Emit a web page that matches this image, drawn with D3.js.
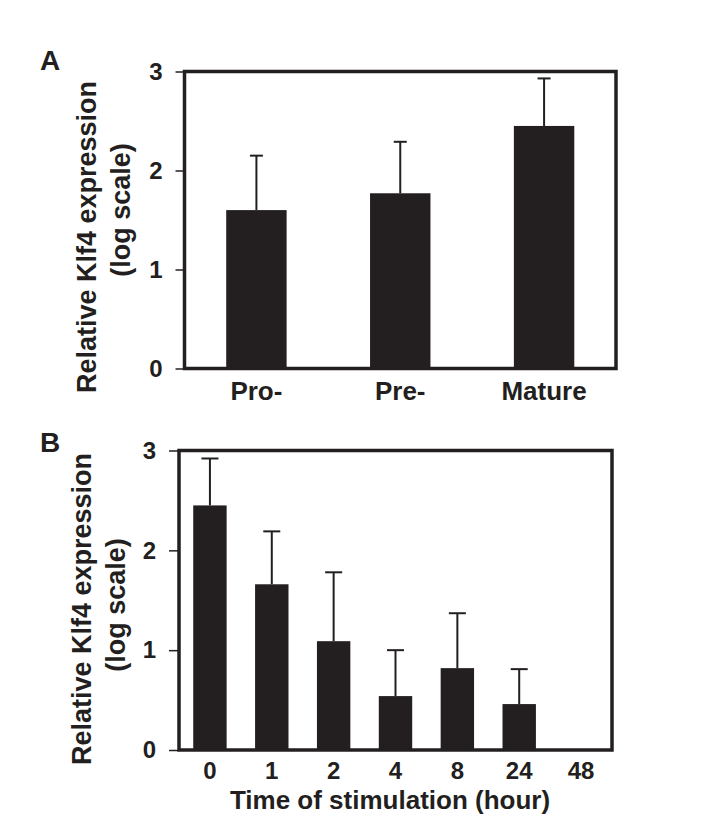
<!DOCTYPE html>
<html>
<head>
<meta charset="utf-8">
<script src="https://cdn.jsdelivr.net/npm/d3@7"></script>
<style>
  body { margin: 0; background: #fff; }
  text { font-family: "Liberation Sans", Arial, sans-serif; font-weight: bold; fill: #231f20; }
</style>
</head>
<body>
<div class="container"></div>
<script>
// panel A: developmental stages
let stages = ["Pro-", "Pre-", "Mature"];
let stageMean = [1.60, 1.77, 2.45];
let stageErr = [0.55, 0.52, 0.48];

// panel B: time of stimulation
let hours = ["0", "1", "2", "4", "8", "24", "48"];
let hourMean = [2.45, 1.66, 1.09, 0.54, 0.82, 0.46, 0];
let hourErr = [0.47, 0.53, 0.69, 0.46, 0.55, 0.35, 0];

let yTicks = [0, 1, 2, 3];

let ink = "#231f20";

let svg = d3.select(".container")
    .append("svg")
    .attr("width", 706)
    .attr("height", 840);

const panel = (opt) => {
    let x = d3.scaleBand()
        .domain(opt.cats)
        .range([opt.left, opt.right])
        .paddingInner(opt.pad)
        .paddingOuter(opt.pad / 2);

    let y = d3.scaleLinear()
        .domain([0, 3])
        .range([opt.bottom, opt.top]);

    let g = svg.append("g");

    // y axis ticks + labels
    let ax = g.append("g")
        .attr("transform", "translate(" + opt.left + ",0)")
        .call(d3.axisLeft(y)
            .tickValues(yTicks)
            .tickFormat(d3.format("d"))
            .tickSize(opt.tick)
            .tickPadding(13));
    ax.select(".domain").remove();
    ax.selectAll("line").attr("stroke", ink).attr("stroke-width", 1.5);
    ax.selectAll("text")
        .style("font-size", "24px")
        .style("font-family", "Liberation Sans, Arial, sans-serif")
        .style("font-weight", "bold")
        .attr("fill", ink);

    // bars
    g.append("g")
        .selectAll("rect")
        .data(opt.cats)
        .enter()
        .append("rect")
        .attr("x", d => x(d))
        .attr("width", x.bandwidth())
        .attr("y", (d, i) => y(opt.mean[i]))
        .attr("height", (d, i) => y(0) - y(opt.mean[i]))
        .attr("fill", ink);

    // error bars (upper only)
    let eb = g.append("g")
        .selectAll("g")
        .data(opt.cats.filter((d, i) => opt.err[i] > 0))
        .enter()
        .append("g");
    eb.append("line")
        .attr("x1", d => x(d) + x.bandwidth() / 2)
        .attr("x2", d => x(d) + x.bandwidth() / 2)
        .attr("y1", d => y(opt.mean[opt.cats.indexOf(d)]))
        .attr("y2", d => { let i = opt.cats.indexOf(d); return y(opt.mean[i] + opt.err[i]); })
        .attr("stroke", ink)
        .attr("stroke-width", 2);
    eb.append("line")
        .attr("x1", d => x(d) + x.bandwidth() / 2 - opt.cap / 2)
        .attr("x2", d => x(d) + x.bandwidth() / 2 + opt.cap / 2)
        .attr("y1", d => { let i = opt.cats.indexOf(d); return y(opt.mean[i] + opt.err[i]); })
        .attr("y2", d => { let i = opt.cats.indexOf(d); return y(opt.mean[i] + opt.err[i]); })
        .attr("stroke", ink)
        .attr("stroke-width", 2);

    // frame
    g.append("rect")
        .attr("x", opt.left)
        .attr("y", opt.top)
        .attr("width", opt.right - opt.left)
        .attr("height", opt.bottom - opt.top)
        .attr("fill", "none")
        .attr("stroke", ink)
        .attr("stroke-width", 3.5);

    // category labels
    g.append("g")
        .selectAll("text")
        .data(opt.cats)
        .enter()
        .append("text")
        .attr("x", d => x(d) + x.bandwidth() / 2)
        .attr("y", opt.labelY)
        .attr("text-anchor", "middle")
        .style("font-size", opt.labelSize + "px")
        .text(d => d);

    // y title, two lines
    g.append("text")
        .attr("transform", "translate(" + opt.title1X + "," + opt.title1Y + ") rotate(-90)")
        .attr("text-anchor", "middle")
        .style("font-size", "27px")
        .text("Relative Klf4 expression");
    g.append("text")
        .attr("transform", "translate(" + opt.title2X + "," + opt.title2Y + ") rotate(-90)")
        .attr("text-anchor", "middle")
        .style("font-size", "27px")
        .text("(log scale)");

    // panel letter
    g.append("text")
        .attr("x", 40)
        .attr("y", opt.letterY)
        .style("font-size", "28px")
        .text(opt.letter);

    return x;
};

panel({
    cats: stages, mean: stageMean, err: stageErr,
    left: 184.5, right: 616, top: 71.5, bottom: 368.5,
    pad: 0.58, cap: 13, tick: 9,
    labelY: 400, labelSize: 26,
    title1X: 96, title1Y: 237, title2X: 130, title2Y: 210,
    letter: "A", letterY: 70
});

panel({
    cats: hours, mean: hourMean, err: hourErr,
    left: 179, right: 612, top: 450.5, bottom: 750,
    pad: 0.46, cap: 17, tick: 10,
    labelY: 779, labelSize: 24,
    title1X: 91, title1Y: 609, title2X: 125, title2Y: 605,
    letter: "B", letterY: 452
});

// x title for panel B
svg.append("text")
    .attr("x", 390)
    .attr("y", 809)
    .attr("text-anchor", "middle")
    .style("font-size", "26px")
    .text("Time of stimulation (hour)");
</script>
</body>
</html>
